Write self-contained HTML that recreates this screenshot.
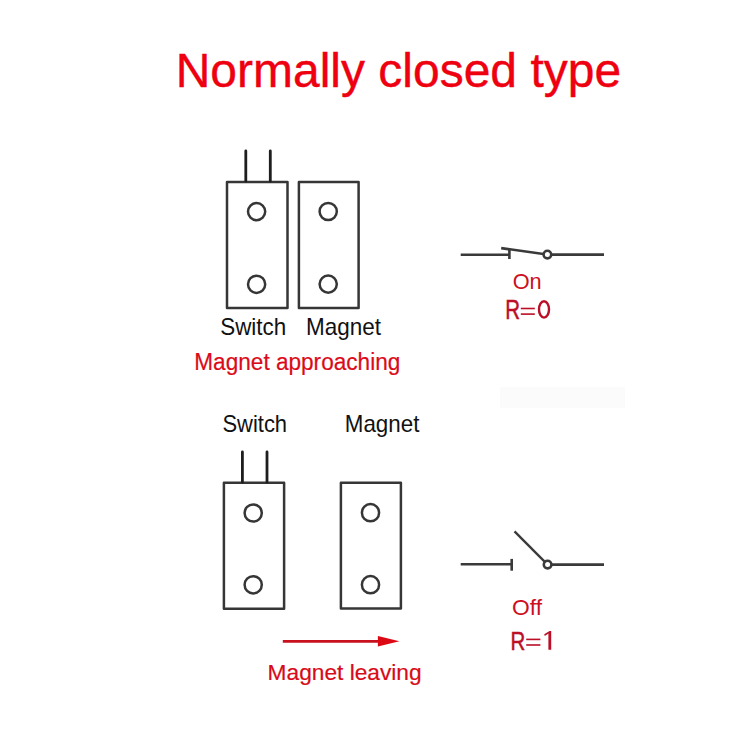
<!DOCTYPE html>
<html><head><meta charset="utf-8">
<style>
html,body{margin:0;padding:0;background:#fff;width:750px;height:750px;overflow:hidden}
svg{position:absolute;left:0;top:0}
text{font-family:"Liberation Sans",sans-serif}
</style></head><body>
<svg width="750" height="750" viewBox="0 0 750 750">
<rect width="750" height="750" fill="#fff"/>
<rect x="500" y="387" width="125" height="21" fill="#fbfbfb"/>
<!-- title -->
<text x="175.7" y="87.3" font-size="47.6" fill="#ee0010" stroke="#ee0010" stroke-width="0.4" textLength="445.4" lengthAdjust="spacingAndGlyphs">Normally closed type</text>

<g fill="none" stroke="#363636" stroke-width="2.5" stroke-linejoin="round">
<!-- upper switch -->
<rect x="227" y="182" width="60.5" height="126"/>
<circle cx="256.6" cy="211.6" r="8.6"/>
<circle cx="256.6" cy="284.3" r="8.6"/>
<!-- upper magnet -->
<rect x="298.9" y="182" width="59.7" height="126"/>
<circle cx="328.2" cy="211.5" r="8.6"/>
<circle cx="328.2" cy="284.1" r="8.6"/>
<!-- lower switch -->
<rect x="223.9" y="482.8" width="60.2" height="126"/>
<circle cx="253.2" cy="513" r="8.6"/>
<circle cx="253.2" cy="584.8" r="8.6"/>
<!-- lower magnet -->
<rect x="340.9" y="482.8" width="60" height="125.7"/>
<circle cx="370.5" cy="512.7" r="8.6"/>
<circle cx="370.5" cy="584.7" r="8.6"/>
</g>
<g fill="none" stroke="#1e1e1e" stroke-width="2.8" stroke-linecap="round">
<line x1="245.8" y1="151" x2="245.8" y2="181"/>
<line x1="270.3" y1="151" x2="270.3" y2="181"/>
<line x1="242.4" y1="452" x2="242.4" y2="482"/>
<line x1="267" y1="452" x2="267" y2="482"/>
</g>

<g fill="none" stroke="#3a3a3a" stroke-width="2.6" stroke-linecap="butt">
<!-- upper switch symbol -->
<line x1="460.7" y1="254.7" x2="509.4" y2="254.7"/>
<line x1="509.4" y1="249.6" x2="509.4" y2="259"/>
<line x1="501.2" y1="248.1" x2="543.5" y2="254"/>
<circle cx="547.4" cy="254.6" r="3.8"/>
<line x1="551.2" y1="254.6" x2="604" y2="254.6"/>
<!-- lower switch symbol -->
<line x1="460.7" y1="564.3" x2="511.7" y2="564.3"/>
<line x1="511.7" y1="558.9" x2="511.7" y2="570.7"/>
<line x1="514.5" y1="531.4" x2="544.6" y2="561.6" stroke-width="2.3"/>
<circle cx="547.6" cy="564.6" r="3.8"/>
<line x1="551.4" y1="564.6" x2="604" y2="564.6"/>
</g>

<!-- labels -->
<g fill="#111">
<text x="220.2" y="334.8" font-size="23.2" textLength="66" lengthAdjust="spacingAndGlyphs">Switch</text>
<text x="306" y="335" font-size="23.2" textLength="75" lengthAdjust="spacingAndGlyphs">Magnet</text>
<text x="222.4" y="431.6" font-size="23.2" textLength="64.7" lengthAdjust="spacingAndGlyphs">Switch</text>
<text x="344.8" y="431.6" font-size="23.2" textLength="74.6" lengthAdjust="spacingAndGlyphs">Magnet</text>
</g>
<text x="194.3" y="369.5" font-size="23" fill="#dc0a18" stroke="#dc0a18" stroke-width="0.2" textLength="206" lengthAdjust="spacingAndGlyphs">Magnet approaching</text>

<!-- arrow -->
<line x1="282.8" y1="641.4" x2="380" y2="641.4" stroke="#c8101e" stroke-width="2.6"/>
<polygon points="377.9,636.1 399.4,641.3 377.9,646.6" fill="#dc0814"/>
<text x="267.6" y="680.2" font-size="22.8" fill="#d80a18" stroke="#d80a18" stroke-width="0.2" textLength="154" lengthAdjust="spacingAndGlyphs">Magnet leaving</text>

<!-- state labels -->
<g fill="#bc0e26">
<text x="512.7" y="289" font-size="22.8" fill="#cc1022" textLength="29" lengthAdjust="spacingAndGlyphs">On</text>
<text x="512" y="614.8" font-size="22.8" fill="#cc1022" textLength="30" lengthAdjust="spacingAndGlyphs">Off</text>
<text x="505.2" y="318.6" font-size="27" stroke="#bc0e26" stroke-width="0.5" textLength="14.8" lengthAdjust="spacingAndGlyphs">R</text>
<rect x="520.8" y="307.7" width="14" height="1.6"/>
<rect x="520.8" y="313.3" width="14" height="1.6"/>
<text x="510.5" y="649.6" font-size="26.5" stroke="#bc0e26" stroke-width="0.5" textLength="14.8" lengthAdjust="spacingAndGlyphs">R</text>
<rect x="526.2" y="638.6" width="14.2" height="1.6"/>
<rect x="526.2" y="644.2" width="14.2" height="1.6"/>
<path d="M548.4 649.8 V633.6 L544.8 636 L544.2 634.2 L549.6 631 H551.2 V649.8 Z"/>
</g>
<ellipse cx="544" cy="309.4" rx="5" ry="8.2" fill="none" stroke="#bc0e26" stroke-width="2.4"/>
</svg>
</body></html>
